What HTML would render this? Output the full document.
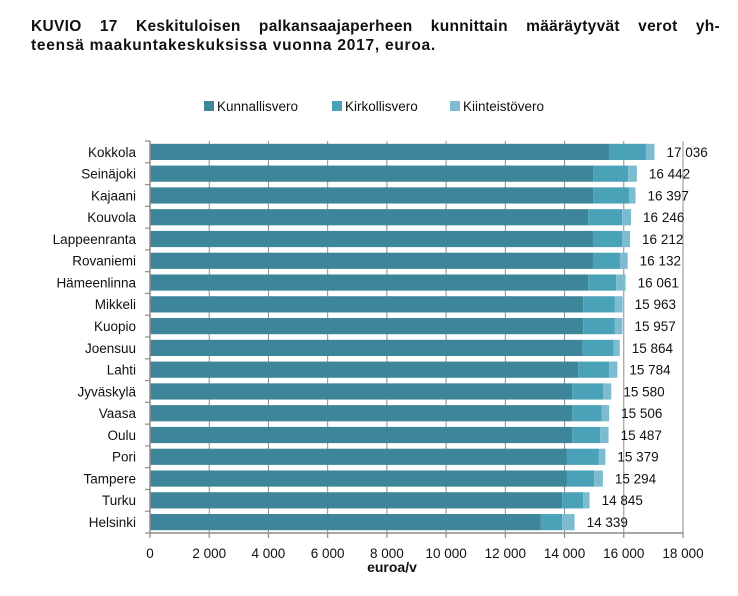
<!DOCTYPE html>
<html><head><meta charset="utf-8">
<style>
body{margin:0;background:#fff;width:738px;height:596px;overflow:hidden;font-family:"Liberation Sans",sans-serif}
.t{position:absolute;left:31px;margin:0;font-size:15.5px;line-height:19px;font-weight:bold;color:#111;white-space:nowrap}
#t1{top:17px;width:689px;text-align:justify;text-align-last:justify;white-space:normal;letter-spacing:0.3px}
#t2{top:36px;letter-spacing:0.75px}
svg{position:absolute;left:0;top:0}
</style></head><body>
<div class="t" id="t1">KUVIO 17 Keskituloisen palkansaajaperheen kunnittain määräytyvät verot yh-</div>
<div class="t" id="t2">teensä maakuntakeskuksissa vuonna 2017, euroa.</div>
<svg id="chart" width="738" height="596"></svg>
<script>
const categories=["Kokkola","Seinäjoki","Kajaani","Kouvola","Lappeenranta","Rovaniemi","Hämeenlinna","Mikkeli","Kuopio","Joensuu","Lahti","Jyväskylä","Vaasa","Oulu","Pori","Tampere","Turku","Helsinki"];
const kunnallis=[15500,14970,14970,14800,14960,14960,14800,14630,14630,14610,14460,14260,14260,14260,14080,14080,13920,13200];
const kirkollis=[1250,1180,1210,1150,980,910,940,1070,1070,1040,1050,1040,990,940,1080,920,710,720];
const totals=[17036,16442,16397,16246,16212,16132,16061,15963,15957,15864,15784,15580,15506,15487,15379,15294,14845,14339];
const totalLabels=["17 036","16 442","16 397","16 246","16 212","16 132","16 061","15 963","15 957","15 864","15 784","15 580","15 506","15 487","15 379","15 294","14 845","14 339"];
const ticks=[0,2000,4000,6000,8000,10000,12000,14000,16000,18000];
const tickLabels=["0","2 000","4 000","6 000","8 000","10 000","12 000","14 000","16 000","18 000"];
const seriesNames=["Kunnallisvero","Kirkollisvero","Kiinteistövero"];
const colors=["#3d8599","#4aa2b9","#7dbcd0"];
const X0=150,X1=683,TOP=141,BOT=533,MAX=18000;
const x=v=>X0+v/MAX*(X1-X0);
const rowH=(BOT-TOP)/categories.length;
const y=i=>TOP+i*rowH;
const svg=document.getElementById('chart');
const NS='http://www.w3.org/2000/svg';
function mk(t,a,parent){const e=document.createElementNS(NS,t);for(const k in a)e.setAttribute(k,a[k]);(parent||svg).appendChild(e);return e;}
ticks.forEach((t,i)=>{if(i===0)return;
 const g=mk('line',{x1:x(t),x2:x(t),y1:TOP,y2:BOT,stroke:'#8c8c8c','stroke-width':1});
 
 
});
categories.forEach((c,i)=>{
 const yy=y(i)+2.8, h=16.2;
 const vals=[kunnallis[i],kirkollis[i],totals[i]-kunnallis[i]-kirkollis[i]];
 let acc=0;
 vals.forEach((v,s)=>{
  const r=mk('rect',{x:x(acc),y:yy,width:x(acc+v)-x(acc),height:h,fill:colors[s]});
  
  
  acc+=v;
 });
 const lab=mk('text',{x:x(totals[i])+12,y:yy+13,'font-size':13.5,fill:'#111','font-family':'Liberation Sans, sans-serif'});
 lab.textContent=totalLabels[i];
 
 
 const cl=mk('text',{x:136,y:yy+13,'font-size':13.5,fill:'#111','text-anchor':'end','font-family':'Liberation Sans, sans-serif'});
 cl.textContent=c;
 
 
});
const ya=mk('line',{x1:X0,x2:X0,y1:TOP,y2:BOT,stroke:'#8c8c8c','stroke-width':1.5});


for(let i=0;i<=categories.length;i++){
 const tk=mk('line',{x1:X0-5,x2:X0,y1:y(i),y2:y(i),stroke:'#8c8c8c','stroke-width':1.2});
 
 
}
const xa=mk('line',{x1:X0,x2:X1,y1:BOT,y2:BOT,stroke:'#8c8c8c','stroke-width':1.5});


ticks.forEach((t,i)=>{
 const tk=mk('line',{x1:x(t),x2:x(t),y1:BOT,y2:BOT+5,stroke:'#8c8c8c','stroke-width':1.2});
 
 
 const tl=mk('text',{x:x(t),y:BOT+25,'font-size':13.5,fill:'#111','text-anchor':'middle','font-family':'Liberation Sans, sans-serif'});
 tl.textContent=tickLabels[i];
 
 
});
const xt=mk('text',{x:392,y:BOT+39,'font-size':14,'font-weight':'bold',fill:'#111','text-anchor':'middle','font-family':'Liberation Sans, sans-serif'});
xt.textContent='euroa/v';


const lx=[204,332,450];
seriesNames.forEach((n,s)=>{
 const r=mk('rect',{x:lx[s],y:101,width:10,height:10,fill:colors[s]});
 
 
 const t=mk('text',{x:lx[s]+13,y:111,'font-size':13.5,fill:'#111','font-family':'Liberation Sans, sans-serif'});
 t.textContent=n;
 
 
});
</script>
</body></html>
